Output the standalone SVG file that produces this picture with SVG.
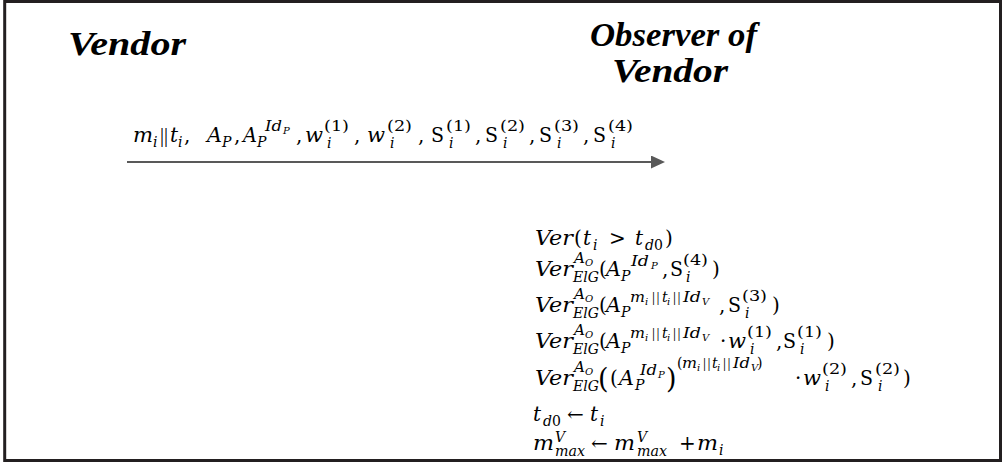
<svg xmlns="http://www.w3.org/2000/svg" width="1004" height="464" viewBox="0 0 1004 464">
<style>
text{font-family:"DejaVu Serif","Liberation Serif",serif;fill:#000}
.mi{font-style:italic;font-size:20px}
.mu{font-style:normal;font-size:20px}
.si{font-style:italic;font-size:14px}
.su{font-style:normal;font-size:14px}
.ti{font-style:italic;font-size:10px}
.bar{font-family:"Liberation Serif",serif;font-style:normal;font-size:20px}
.sbar{font-family:"Liberation Serif",serif;font-style:normal;font-size:15px;letter-spacing:1.5px}
.big{font-style:normal;font-size:27px}
.hd{font-family:"Liberation Serif",serif;font-style:italic;font-weight:bold;font-size:34px}
</style>
<defs>
<marker id="ah" viewBox="0 0 14 13" refX="2" refY="6.5" markerWidth="14" markerHeight="13" markerUnits="userSpaceOnUse" orient="auto">
<path d="M0,0 L14,6.5 L0,13 Z" fill="#595959"/>
</marker>
</defs>
<rect x="4.7" y="1.5" width="995.8" height="459" fill="#fff" stroke="#231f20" stroke-width="3"/>

<g id="vendor">
<text class="hd" x="68" y="55" textLength="118" lengthAdjust="spacingAndGlyphs">Vendor</text>
</g>
<g id="observer">
<text class="hd" x="590" y="46" textLength="167" lengthAdjust="spacingAndGlyphs">Observer of</text>
<text class="hd" x="612" y="82" textLength="116" lengthAdjust="spacingAndGlyphs">Vendor</text>
</g>

<g id="connectors">
<line x1="127" y1="162" x2="653" y2="162" stroke="#595959" stroke-width="2" marker-end="url(#ah)"/>
<g id="message">
<text class="mi" x="133" y="142" textLength="20" lengthAdjust="spacingAndGlyphs">m</text><text class="si" x="153" y="147">i</text>
<text class="bar" x="160" y="142">||</text>
<text class="mi" x="170" y="142">t</text><text class="si" x="178" y="147">i</text>
<text class="mu" x="184" y="142">,</text>
<text class="mi" x="207" y="142" textLength="15" lengthAdjust="spacingAndGlyphs">A</text><text class="si" x="222" y="147">P</text>
<text class="mu" x="234" y="142">,</text>
<text class="mi" x="243" y="142" textLength="14" lengthAdjust="spacingAndGlyphs">A</text><text class="si" x="257" y="147">P</text>
<text class="si" x="265" y="131" textLength="17" lengthAdjust="spacingAndGlyphs">Id</text><text class="ti" x="283" y="134">P</text>
<text class="mu" x="296" y="142">,</text>
<text class="mi" x="305" y="142" textLength="18" lengthAdjust="spacingAndGlyphs">w</text><text class="su" x="324" y="131" textLength="25" lengthAdjust="spacingAndGlyphs">(1)</text><text class="si" x="327" y="148">i</text>
<text class="mu" x="354" y="142">,</text>
<text class="mi" x="367" y="142" textLength="18" lengthAdjust="spacingAndGlyphs">w</text><text class="su" x="387" y="131" textLength="25" lengthAdjust="spacingAndGlyphs">(2)</text><text class="si" x="390" y="148">i</text>
<text class="mu" x="418" y="142">,</text>
<text class="mu" x="431" y="142" textLength="13" lengthAdjust="spacingAndGlyphs">S</text><text class="su" x="446" y="131" textLength="25" lengthAdjust="spacingAndGlyphs">(1)</text><text class="si" x="449" y="148">i</text>
<text class="mu" x="475" y="142">,</text>
<text class="mu" x="485" y="142" textLength="13" lengthAdjust="spacingAndGlyphs">S</text><text class="su" x="500" y="131" textLength="25" lengthAdjust="spacingAndGlyphs">(2)</text><text class="si" x="503" y="148">i</text>
<text class="mu" x="529" y="142">,</text>
<text class="mu" x="539" y="142" textLength="13" lengthAdjust="spacingAndGlyphs">S</text><text class="su" x="554" y="131" textLength="25" lengthAdjust="spacingAndGlyphs">(3)</text><text class="si" x="557" y="148">i</text>
<text class="mu" x="583" y="142">,</text>
<text class="mu" x="593" y="142" textLength="13" lengthAdjust="spacingAndGlyphs">S</text><text class="su" x="608" y="131" textLength="25" lengthAdjust="spacingAndGlyphs">(4)</text><text class="si" x="611" y="148">i</text>
</g>
</g>

<g id="verification">
<!-- line 1 -->
<text class="mi" x="535" y="245" textLength="38" lengthAdjust="spacingAndGlyphs">Ver</text>
<text class="mu" x="574" y="245">(</text>
<text class="mi" x="583" y="245">t</text><text class="si" x="593" y="250">i</text>
<text class="mu" x="609" y="245">&gt;</text>
<text class="mi" x="635" y="245">t</text><text class="si" x="645" y="250">d<tspan font-style="normal">0</tspan></text>
<text class="mu" x="665" y="245">)</text>

<!-- line 2 -->
<text class="mi" x="535" y="276" textLength="38" lengthAdjust="spacingAndGlyphs">Ver</text>
<text class="si" x="574" y="263" textLength="11" lengthAdjust="spacingAndGlyphs">A</text><text class="ti" x="585" y="266">O</text>
<text class="si" x="573" y="282" textLength="26" lengthAdjust="spacingAndGlyphs">ElG</text>
<text class="mu" x="599" y="276">(</text>
<text class="mi" x="606" y="276" textLength="15" lengthAdjust="spacingAndGlyphs">A</text><text class="si" x="621" y="281">P</text>
<text class="si" x="631" y="266" textLength="18" lengthAdjust="spacingAndGlyphs">Id</text><text class="ti" x="651" y="269">P</text>
<text class="mu" x="662" y="276">,</text>
<text class="mu" x="670" y="276" textLength="13" lengthAdjust="spacingAndGlyphs">S</text><text class="su" x="683" y="265" textLength="25" lengthAdjust="spacingAndGlyphs">(4)</text><text class="si" x="686" y="282">i</text>
<text class="mu" x="712" y="276">)</text>

<!-- line 3 -->
<text class="mi" x="535" y="312" textLength="38" lengthAdjust="spacingAndGlyphs">Ver</text>
<text class="si" x="574" y="299" textLength="11" lengthAdjust="spacingAndGlyphs">A</text><text class="ti" x="585" y="302">O</text>
<text class="si" x="573" y="318" textLength="26" lengthAdjust="spacingAndGlyphs">ElG</text>
<text class="mu" x="599" y="312">(</text>
<text class="mi" x="606" y="312" textLength="15" lengthAdjust="spacingAndGlyphs">A</text><text class="si" x="621" y="317">P</text>
<text class="si" x="630" y="302" textLength="15" lengthAdjust="spacingAndGlyphs">m</text><text class="ti" x="645" y="305">i</text>
<text class="sbar" x="652" y="302">||</text>
<text class="si" x="662" y="302">t</text><text class="ti" x="667" y="305">i</text>
<text class="sbar" x="673" y="302">||</text>
<text class="si" x="683" y="302" textLength="18" lengthAdjust="spacingAndGlyphs">Id</text><text class="ti" x="702" y="305">V</text>
<text class="mu" x="719" y="312">,</text>
<text class="mu" x="728" y="312" textLength="13" lengthAdjust="spacingAndGlyphs">S</text><text class="su" x="742" y="301" textLength="25" lengthAdjust="spacingAndGlyphs">(3)</text><text class="si" x="745" y="318">i</text>
<text class="mu" x="772" y="312">)</text>

<!-- line 4 -->
<text class="mi" x="535" y="348" textLength="38" lengthAdjust="spacingAndGlyphs">Ver</text>
<text class="si" x="574" y="335" textLength="11" lengthAdjust="spacingAndGlyphs">A</text><text class="ti" x="585" y="338">O</text>
<text class="si" x="573" y="354" textLength="26" lengthAdjust="spacingAndGlyphs">ElG</text>
<text class="mu" x="599" y="348">(</text>
<text class="mi" x="606" y="348" textLength="15" lengthAdjust="spacingAndGlyphs">A</text><text class="si" x="621" y="353">P</text>
<text class="si" x="630" y="338" textLength="15" lengthAdjust="spacingAndGlyphs">m</text><text class="ti" x="645" y="341">i</text>
<text class="sbar" x="652" y="338">||</text>
<text class="si" x="662" y="338">t</text><text class="ti" x="667" y="341">i</text>
<text class="sbar" x="673" y="338">||</text>
<text class="si" x="683" y="338" textLength="18" lengthAdjust="spacingAndGlyphs">Id</text><text class="ti" x="702" y="341">V</text>
<text class="mu" x="720" y="348">·</text>
<text class="mi" x="728" y="348" textLength="18" lengthAdjust="spacingAndGlyphs">w</text><text class="su" x="747" y="337" textLength="25" lengthAdjust="spacingAndGlyphs">(1)</text><text class="si" x="750" y="354">i</text>
<text class="mu" x="776" y="348">,</text>
<text class="mu" x="783" y="348" textLength="13" lengthAdjust="spacingAndGlyphs">S</text><text class="su" x="797" y="337" textLength="25" lengthAdjust="spacingAndGlyphs">(1)</text><text class="si" x="800" y="354">i</text>
<text class="mu" x="827" y="348">)</text>

<!-- line 5 -->
<text class="mi" x="535" y="385" textLength="38" lengthAdjust="spacingAndGlyphs">Ver</text>
<text class="si" x="574" y="372" textLength="11" lengthAdjust="spacingAndGlyphs">A</text><text class="ti" x="585" y="375">O</text>
<text class="si" x="573" y="391" textLength="26" lengthAdjust="spacingAndGlyphs">ElG</text>
<text class="big" x="598" y="388">(</text>
<text class="mu" x="610" y="385">(</text>
<text class="mi" x="619" y="385" textLength="15" lengthAdjust="spacingAndGlyphs">A</text><text class="si" x="635" y="390">P</text>
<text class="si" x="640" y="375" textLength="17" lengthAdjust="spacingAndGlyphs">Id</text><text class="ti" x="658" y="378">P</text>
<text class="big" x="666" y="388">)</text>
<text class="su" x="677" y="368">(</text>
<text class="si" x="682" y="368" textLength="15" lengthAdjust="spacingAndGlyphs">m</text><text class="ti" x="697" y="371">i</text>
<text class="sbar" x="703" y="368">||</text>
<text class="si" x="712" y="368">t</text><text class="ti" x="717" y="371">i</text>
<text class="sbar" x="723" y="368">||</text>
<text class="si" x="733" y="368" textLength="17" lengthAdjust="spacingAndGlyphs">Id</text><text class="ti" x="751" y="371">V</text>
<text class="su" x="757" y="368">)</text>
<text class="mu" x="795" y="385">·</text>
<text class="mi" x="803" y="385" textLength="18" lengthAdjust="spacingAndGlyphs">w</text><text class="su" x="822" y="374" textLength="25" lengthAdjust="spacingAndGlyphs">(2)</text><text class="si" x="825" y="391">i</text>
<text class="mu" x="851" y="385">,</text>
<text class="mu" x="860" y="385" textLength="13" lengthAdjust="spacingAndGlyphs">S</text><text class="su" x="875" y="374" textLength="25" lengthAdjust="spacingAndGlyphs">(2)</text><text class="si" x="878" y="391">i</text>
<text class="mu" x="903" y="385">)</text>

<!-- line 6 -->
<text class="mi" x="533" y="421">t</text><text class="si" x="543" y="426">d<tspan font-style="normal">0</tspan></text>
<text class="mu" x="567" y="421">←</text>
<text class="mi" x="590" y="421">t</text><text class="si" x="600" y="426">i</text>

<!-- line 7 -->
<text class="mi" x="533" y="450" textLength="21" lengthAdjust="spacingAndGlyphs">m</text><text class="si" x="555" y="442">V</text><text class="si" x="555" y="456" textLength="30" lengthAdjust="spacingAndGlyphs">max</text>
<text class="mu" x="591" y="450">←</text>
<text class="mi" x="614" y="450" textLength="21" lengthAdjust="spacingAndGlyphs">m</text><text class="si" x="637" y="442">V</text><text class="si" x="637" y="456" textLength="30" lengthAdjust="spacingAndGlyphs">max</text>
<text class="mu" x="679" y="450">+</text>
<text class="mi" x="697" y="450" textLength="21" lengthAdjust="spacingAndGlyphs">m</text><text class="si" x="719" y="455">i</text>
</g>
</svg>
